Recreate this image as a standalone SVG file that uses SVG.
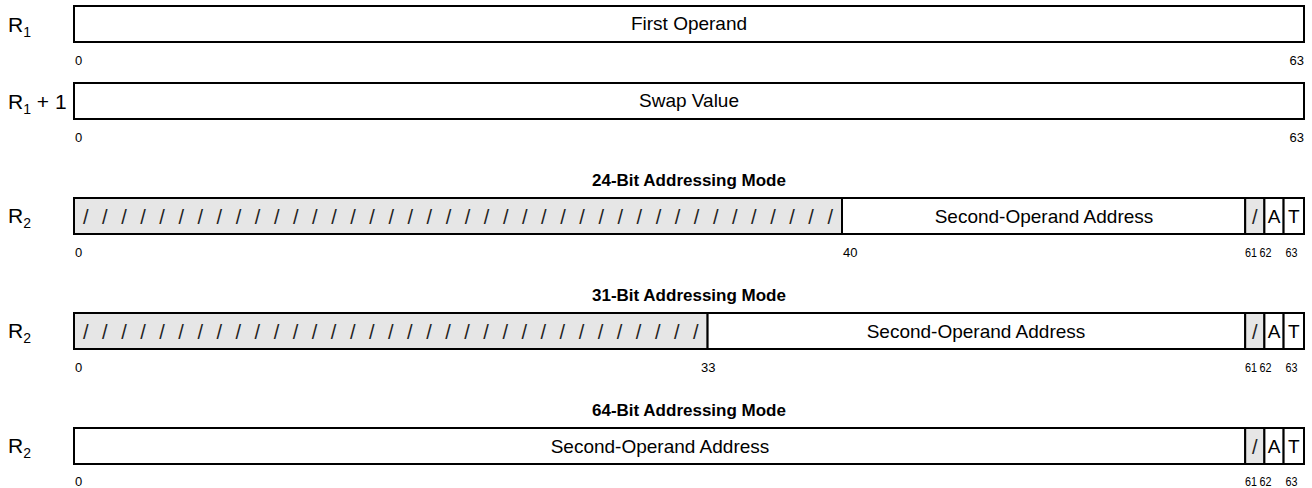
<svg xmlns="http://www.w3.org/2000/svg" width="1312" height="488" viewBox="0 0 1312 488">
<style>
.box{fill:#fff;stroke:#000;stroke-width:2}
.res{fill:#e6e6e6;stroke:#000;stroke-width:2}
.t{font-family:"Liberation Sans",Arial,sans-serif;font-size:19px;fill:#000}
.c{text-anchor:middle}
.s{font-family:"Liberation Sans",Arial,sans-serif;font-size:20px;fill:#222}
.h{font-family:"Liberation Sans",Arial,sans-serif;font-size:17px;font-weight:bold;text-anchor:middle;fill:#000}
.b{font-family:"Liberation Sans",Arial,sans-serif;font-size:13px;fill:#000}
.e{text-anchor:end}
.lab{font-family:"Liberation Sans",Arial,sans-serif;font-size:21px;fill:#000}
.sub{font-size:14px}
</style>

<g id="row-r1">
<text class="lab" x="8" y="32">R<tspan class="sub" dy="5">1</tspan></text>
<rect class="box" x="74" y="6" width="1230" height="36"/>
<text class="t c" x="689" y="30">First Operand</text>
<text class="b" x="75" y="65">0</text>
<text class="b e" x="1304" y="65">63</text>
</g>

<g id="row-r1p1">
<text class="lab" x="8" y="109">R<tspan class="sub" dy="5">1</tspan><tspan dy="-5"> + 1</tspan></text>
<rect class="box" x="74" y="83" width="1230" height="36"/>
<text class="t c" x="689" y="107">Swap Value</text>
<text class="b" x="75" y="142">0</text>
<text class="b e" x="1304" y="142">63</text>
</g>

<g id="row-r2-24">
<text class="h" x="689" y="186">24-Bit Addressing Mode</text>
<text class="lab" x="8" y="223">R<tspan class="sub" dy="5">2</tspan></text>
<rect class="res" x="74" y="198" width="768" height="36"/>
<rect class="box" x="842" y="198" width="403.2" height="36"/>
<rect class="res" x="1245.2" y="198" width="19.2" height="36"/>
<rect class="box" x="1264.4" y="198" width="19.2" height="36"/>
<rect class="box" x="1283.6" y="198" width="20.4" height="36"/>
<text class="s c" x="458" y="224" textLength="750" lengthAdjust="spacing">/ / / / / / / / / / / / / / / / / / / / / / / / / / / / / / / / / / / / / / / /</text>
<text class="t c" x="1044" y="223">Second-Operand Address</text>
<text class="s c" x="1254.8" y="224">/</text>
<text class="t c" x="1274" y="223">A</text>
<text class="t c" x="1293.8" y="223">T</text>
<text class="b" x="75" y="257">0</text>
<text class="b" x="843" y="257">40</text>
<text class="b" x="1245" y="257" textLength="12" lengthAdjust="spacingAndGlyphs">61</text>
<text class="b" x="1259.5" y="257" textLength="12" lengthAdjust="spacingAndGlyphs">62</text>
<text class="b" x="1285.5" y="257" textLength="12" lengthAdjust="spacingAndGlyphs">63</text>
</g>

<g id="row-r2-31">
<text class="h" x="689" y="301">31-Bit Addressing Mode</text>
<text class="lab" x="8" y="338">R<tspan class="sub" dy="5">2</tspan></text>
<rect class="res" x="74" y="313" width="633.6" height="36"/>
<rect class="box" x="707.6" y="313" width="537.6" height="36"/>
<rect class="res" x="1245.2" y="313" width="19.2" height="36"/>
<rect class="box" x="1264.4" y="313" width="19.2" height="36"/>
<rect class="box" x="1283.6" y="313" width="20.4" height="36"/>
<text class="s c" x="390.8" y="339" textLength="615.6" lengthAdjust="spacing">/ / / / / / / / / / / / / / / / / / / / / / / / / / / / / / / / /</text>
<text class="t c" x="976" y="338">Second-Operand Address</text>
<text class="s c" x="1254.8" y="339">/</text>
<text class="t c" x="1274" y="338">A</text>
<text class="t c" x="1293.8" y="338">T</text>
<text class="b" x="75" y="372">0</text>
<text class="b" x="701" y="372">33</text>
<text class="b" x="1245" y="372" textLength="12" lengthAdjust="spacingAndGlyphs">61</text>
<text class="b" x="1259.5" y="372" textLength="12" lengthAdjust="spacingAndGlyphs">62</text>
<text class="b" x="1285.5" y="372" textLength="12" lengthAdjust="spacingAndGlyphs">63</text>
</g>

<g id="row-r2-64">
<text class="h" x="689" y="416">64-Bit Addressing Mode</text>
<text class="lab" x="8" y="453">R<tspan class="sub" dy="5">2</tspan></text>
<rect class="box" x="74" y="428" width="1171.2" height="36"/>
<rect class="res" x="1245.2" y="428" width="19.2" height="36"/>
<rect class="box" x="1264.4" y="428" width="19.2" height="36"/>
<rect class="box" x="1283.6" y="428" width="20.4" height="36"/>
<text class="t c" x="660" y="453">Second-Operand Address</text>
<text class="s c" x="1254.8" y="454">/</text>
<text class="t c" x="1274" y="453">A</text>
<text class="t c" x="1293.8" y="453">T</text>
<text class="b" x="75" y="486">0</text>
<text class="b" x="1245" y="486" textLength="12" lengthAdjust="spacingAndGlyphs">61</text>
<text class="b" x="1259.5" y="486" textLength="12" lengthAdjust="spacingAndGlyphs">62</text>
<text class="b" x="1285.5" y="486" textLength="12" lengthAdjust="spacingAndGlyphs">63</text>
</g>
</svg>
